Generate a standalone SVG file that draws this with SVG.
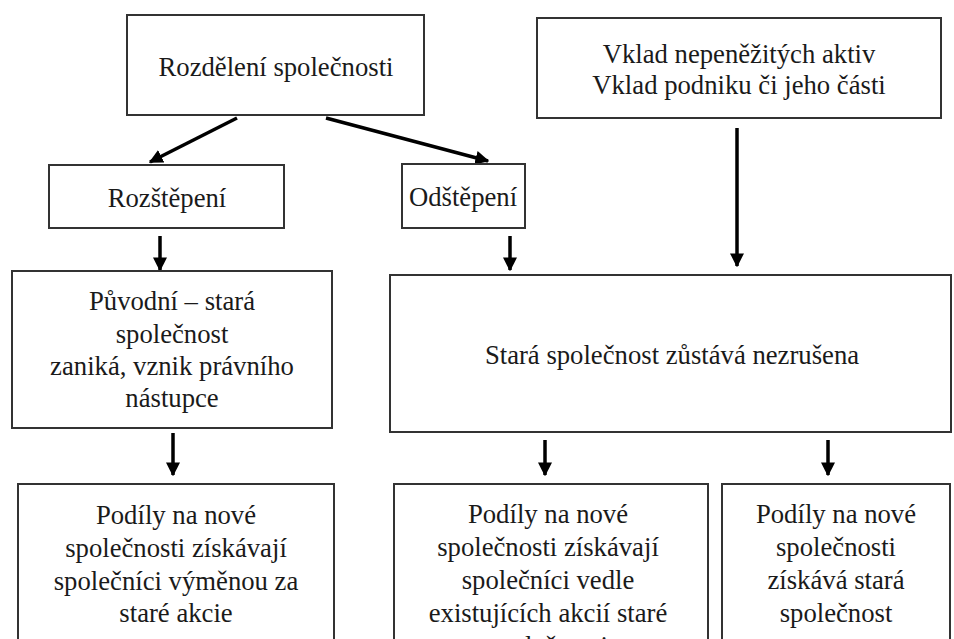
<svg xmlns="http://www.w3.org/2000/svg" width="954" height="639" viewBox="0 0 954 639">
  <defs>
    <marker id="head" viewBox="0 0 10 10" refX="9" refY="5" markerWidth="4" markerHeight="4" markerUnits="strokeWidth" orient="auto">
      <path d="M0,0 L10,5 L0,10 z" fill="#000"/>
    </marker>
  </defs>
  <style>
    .box { fill: #fff; stroke: #333; stroke-width: 2; }
    .lbl { font-family: 'Liberation Serif', 'DejaVu Serif', serif; font-size: 26.7px; fill: #1a1a1a; text-anchor: middle; }
    .edge { stroke: #000; stroke-width: 3.5; fill: none; marker-end: url(#head); }
  </style>
  <rect width="954" height="639" fill="#fff"/>

  <g id="connectors">
    <line class="edge" x1="237" y1="118" x2="150" y2="162"/>
    <line class="edge" x1="326" y1="118" x2="488" y2="161"/>
    <line class="edge" x1="160" y1="236" x2="160" y2="270"/>
    <line class="edge" x1="510" y1="236" x2="510" y2="270"/>
    <line class="edge" x1="737" y1="128" x2="737" y2="266"/>
    <line class="edge" x1="173" y1="433" x2="173" y2="475"/>
    <line class="edge" x1="545" y1="440" x2="545" y2="475"/>
    <line class="edge" x1="828" y1="440" x2="828" y2="475"/>
  </g>

  <g id="rozdeleni">
    <rect class="box" x="127" y="15" width="297" height="100"/>
    <text class="lbl" x="276" y="76">Rozdělení společnosti</text>
  </g>

  <g id="vklad">
    <rect class="box" x="537" y="18" width="404" height="100"/>
    <text class="lbl" x="739" y="63">Vklad nepeněžitých aktiv</text>
    <text class="lbl" x="739" y="94">Vklad podniku či jeho části</text>
  </g>

  <g id="rozstepeni">
    <rect class="box" x="49" y="165" width="235" height="63"/>
    <text class="lbl" x="167" y="207">Rozštěpení</text>
  </g>

  <g id="odstepeni">
    <rect class="box" x="402" y="164" width="123" height="64"/>
    <text class="lbl" x="463" y="206">Odštěpení</text>
  </g>

  <g id="puvodni">
    <rect class="box" x="12" y="271" width="320" height="157"/>
    <text class="lbl" x="172" y="310">Původní – stará</text>
    <text class="lbl" x="172" y="343">společnost</text>
    <text class="lbl" x="172" y="375">zaniká, vznik právního</text>
    <text class="lbl" x="172" y="407">nástupce</text>
  </g>

  <g id="stara">
    <rect class="box" x="390" y="275" width="561" height="157"/>
    <text class="lbl" x="672" y="364">Stará společnost zůstává nezrušena</text>
  </g>

  <g id="podily-vymenou">
    <rect class="box" x="18" y="484" width="316" height="170"/>
    <text class="lbl" x="176" y="524">Podíly na nové</text>
    <text class="lbl" x="176" y="557">společnosti získávají</text>
    <text class="lbl" x="176" y="590">společníci výměnou za</text>
    <text class="lbl" x="176" y="622">staré akcie</text>
  </g>

  <g id="podily-vedle">
    <rect class="box" x="394" y="484" width="314" height="170"/>
    <text class="lbl" x="548" y="523">Podíly na nové</text>
    <text class="lbl" x="548" y="556">společnosti získávají</text>
    <text class="lbl" x="548" y="589">společníci vedle</text>
    <text class="lbl" x="548" y="622">existujících akcií staré</text>
    <text class="lbl" x="548" y="655">společnosti</text>
  </g>

  <g id="podily-stara">
    <rect class="box" x="722" y="484" width="228" height="170"/>
    <text class="lbl" x="836" y="523">Podíly na nové</text>
    <text class="lbl" x="836" y="556">společnosti</text>
    <text class="lbl" x="836" y="589">získává stará</text>
    <text class="lbl" x="836" y="622">společnost</text>
  </g>
</svg>
